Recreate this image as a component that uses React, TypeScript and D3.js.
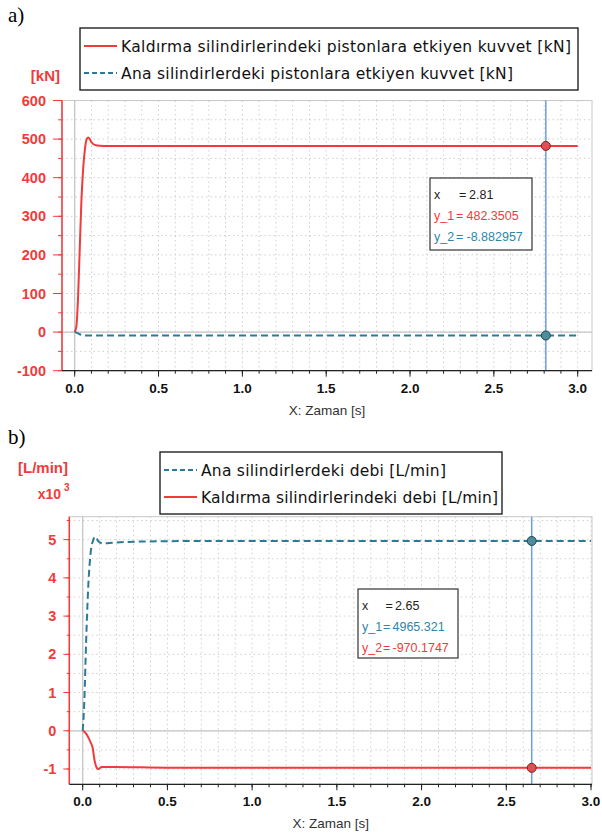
import React from 'react'
import * as d3 from 'd3'

// a) forces [kN]
const timeLift = [0, 0.01, 0.02, 0.03, 0.04, 0.05, 0.06, 0.07, 0.08, 0.09, 0.1, 0.12, 0.15, 0.2, 0.5, 1.0, 1.5, 2.0, 2.5, 2.81, 3.0]
const liftForce = [0, 15, 90, 215, 340, 420, 470, 498, 504, 500, 492, 485, 482.5, 482, 482.3, 482.35, 482.35, 482.35, 482.35, 482.35, 482.35]
const timeMain = [0, 0.01, 0.02, 0.03, 0.04, 0.05, 0.06, 0.1, 0.5, 1.0, 2.0, 2.81, 3.0]
const mainForce = [0, -1.5, -3.5, -5.5, -7.5, -8.6, -8.9, -8.88, -8.88, -8.88, -8.88, -8.882957, -8.88]

// b) flows [L/min]
const timeMainFlow = [0, 0.01, 0.02, 0.033, 0.047, 0.063, 0.075, 0.092, 0.12, 0.18, 0.34, 0.61, 1.0, 1.5, 2.0, 2.65, 3.0]
const mainFlow = [0, 820, 2300, 3790, 4660, 5000, 5080, 4960, 4900, 4920, 4950, 4962, 4965, 4965, 4965, 4965.321, 4965.3]
const timeLiftFlow = [0, 0.012, 0.024, 0.036, 0.047, 0.059, 0.069, 0.083, 0.092, 0.112, 0.18, 0.5, 1.0, 2.0, 2.65, 3.0]
const liftFlow = [0, -30, -100, -200, -310, -450, -750, -970, -1000, -950, -945, -965, -968, -970, -970.1747, -970.2]

const xTicks = d3.range(0, 3.01, 0.5)
const xMinor = d3.range(0, 3.01, 0.1)

const RED = '#f23a3a'
const TEAL = '#2b7a97'
const FONT = 'Liberation Sans, Arial, sans-serif'
const TFONT = 'DejaVu Sans, Verdana, sans-serif'

type Series = { t: number[]; v: number[]; color: string; dashed?: boolean }

type PanelProps = {
  left: number; right: number; top: number; bottom: number
  x0: number; x3: number
  yDomain: [number, number]
  yMajor: number; yMinor: number; yFmt: (v: number) => string
  yTickLen: number
  series: Series[]
  cursorT: number
  cursorVals: number[]
  tip: { x: number; y: number; w: number; h: number; rows: { label: string; value: string; color: string; eqX: number; valX: number }[] }
}

function Panel(p: PanelProps) {
  const x = d3.scaleLinear().domain([0, 3]).range([p.x0, p.x3])
  const y = d3.scaleLinear().domain(p.yDomain).range([p.bottom, p.top])
  const yMaj = d3.range(Math.ceil(p.yDomain[0] / p.yMajor) * p.yMajor, p.yDomain[1] + 1e-6, p.yMajor)
  const yMin = d3.range(Math.ceil(p.yDomain[0] / p.yMinor) * p.yMinor, p.yDomain[1] + 1e-6, p.yMinor)
  const xMin = xMinor.filter(t => x(t) <= p.right + 0.5)
  const line = d3.line<number>().curve(d3.curveMonotoneX)
  const cx = x(p.cursorT)
  return (
    <g>
      {/* grid */}
      {xMin.map((t, i) => (
        <line key={'gx' + i} x1={x(t)} x2={x(t)} y1={p.top} y2={p.bottom} stroke="#cfcfcf" strokeDasharray="1.5,3" />
      ))}
      {yMin.map((v, i) => (
        <line key={'gy' + i} x1={p.left} x2={p.right} y1={y(v)} y2={y(v)} stroke="#cfcfcf" strokeDasharray="1.5,3" />
      ))}
      <line x1={x(0)} x2={x(0)} y1={p.top} y2={p.bottom} stroke="#c4c4c4" strokeWidth={1.2} />
      <line x1={p.left} x2={p.right} y1={y(0)} y2={y(0)} stroke="#c4c4c4" strokeWidth={1.2} />
      <rect x={p.left} y={p.top} width={p.right - p.left} height={p.bottom - p.top} fill="none" stroke="#c8c8c8" />

      {/* series */}
      {p.series.map((s, i) => (
        <path key={'s' + i}
          d={line.x((_, j) => x(s.t[j])).y(v => y(v))(s.v) || ''}
          fill="none" stroke={s.color} strokeWidth={2}
          strokeDasharray={s.dashed ? '7,4' : undefined} />
      ))}

      {/* cursor */}
      <line x1={cx} x2={cx} y1={p.top} y2={p.bottom} stroke="#6a9fd8" strokeWidth={1.5} />
      {p.cursorVals.map((v, i) => (
        <circle key={'m' + i} cx={cx} cy={y(v)} r={4.5}
          fill={p.series[i].color === RED ? '#e05050' : '#4f8c9c'}
          stroke={p.series[i].color === RED ? '#7a1f1f' : '#1d4854'} strokeWidth={1} />
      ))}

      {/* y axis */}
      <line x1={p.left} x2={p.left} y1={p.top} y2={p.bottom} stroke={RED} strokeWidth={1.5} />
      {yMin.map((v, i) => (
        <line key={'ym' + i} x1={p.left - p.yTickLen / 2.3} x2={p.left} y1={y(v)} y2={y(v)} stroke={RED} />
      ))}
      {yMaj.map((v, i) => (
        <g key={'yM' + i}>
          <line x1={p.left - p.yTickLen} x2={p.left} y1={y(v)} y2={y(v)} stroke={RED} />
          <text x={p.left - p.yTickLen - 7} y={y(v) + 5} textAnchor="end" fill={RED}
            fontFamily={FONT} fontWeight="bold" fontSize={14.5}>{p.yFmt(v)}</text>
        </g>
      ))}

      {/* x axis */}
      <line x1={p.left} x2={p.right} y1={p.bottom} y2={p.bottom} stroke="#222" strokeWidth={1.2} />
      {xMin.map((t, i) => (
        <line key={'xm' + i} x1={x(t)} x2={x(t)} y1={p.bottom} y2={p.bottom + 3} stroke="#222" />
      ))}
      {xTicks.map((t, i) => (
        <g key={'xM' + i}>
          <line x1={x(t)} x2={x(t)} y1={p.bottom} y2={p.bottom + 6} stroke="#222" />
          <text x={x(t)} y={p.bottom + 22} textAnchor="middle" fill="#111"
            fontFamily={FONT} fontWeight="bold" fontSize={13.5}>{t.toFixed(1)}</text>
        </g>
      ))}
      <text x={(p.left + p.right) / 2 - 0} y={p.bottom + 44} textAnchor="middle" fill="#333"
        fontFamily={FONT} fontSize={13.5}>X: Zaman [s]</text>

      {/* tooltip */}
      <rect x={p.tip.x} y={p.tip.y} width={p.tip.w} height={p.tip.h} fill="white" stroke="#333" strokeWidth={1.2} />
      {p.tip.rows.map((r, i) => (
        <text key={'tr' + i} y={p.tip.y + 21 + i * 21} fill={r.color} fontFamily={FONT} fontSize={12.5}>
          <tspan x={p.tip.x + 4}>{r.label}</tspan>
          <tspan x={r.eqX}>=</tspan>
          <tspan x={r.valX}>{r.value}</tspan>
        </text>
      ))}
    </g>
  )
}

function Legend({ x, y, w, items }: { x: number; y: number; w: number; items: { label: string; width: number; color: string; dashed?: boolean }[] }) {
  return (
    <g>
      <rect x={x} y={y} width={w} height={62} fill="white" stroke="#111" strokeWidth={1.3} />
      {items.map((it, i) => (
        <g key={i}>
          <line x1={x + 4} x2={x + 37} y1={y + 18 + i * 27} y2={y + 18 + i * 27} stroke={it.color} strokeWidth={2}
            strokeDasharray={it.dashed ? '5,3' : undefined} />
          <text x={x + 41} y={y + 24 + i * 27} fontFamily={TFONT} fontSize={15.5} fill="#111"
            textLength={it.width} lengthAdjust="spacing">{it.label}</text>
        </g>
      ))}
    </g>
  )
}

export default function App() {
  return (
    <svg width={602} height={836} style={{ position: 'absolute', left: 0, top: 0, background: 'white' }}>
      <text x={8} y={22} fontFamily="Liberation Serif, serif" fontSize={21}>a)</text>
      <Legend x={80} y={28} w={498} items={[
        { label: 'Kaldırma silindirlerindeki pistonlara etkiyen kuvvet [kN]', width: 450, color: RED },
        { label: 'Ana silindirlerdeki pistonlara etkiyen kuvvet [kN]', width: 392, color: TEAL, dashed: true },
      ]} />
      <text x={60} y={81} textAnchor="end" fill={RED} fontFamily={FONT} fontWeight="bold" fontSize={15}>[kN]</text>
      <Panel
        left={62} right={592} top={100.5} bottom={370.7}
        x0={74.7} x3={577.7}
        yDomain={[-100, 600]} yMajor={100} yMinor={50} yFmt={v => String(v)} yTickLen={9}
        series={[
          { t: timeLift, v: liftForce, color: RED },
          { t: timeMain, v: mainForce, color: TEAL, dashed: true },
        ]}
        cursorT={2.81}
        cursorVals={[482.3505, -8.882957]}
        tip={{
          x: 430, y: 178, w: 102, h: 72, rows: [
            { label: 'x', value: '2.81', color: '#222', eqX: 459, valX: 469 },
            { label: 'y_1', value: '482.3505', color: RED, eqX: 456, valX: 466.5 },
            { label: 'y_2', value: '-8.882957', color: '#2f86a6', eqX: 456, valX: 466.5 },
          ]
        }}
      />

      <text x={8} y={444} fontFamily="Liberation Serif, serif" fontSize={21}>b)</text>
      <Legend x={160} y={452} w={342} items={[
        { label: 'Ana silindirlerdeki debi [L/min]', width: 245, color: TEAL, dashed: true },
        { label: 'Kaldırma silindirlerindeki debi [L/min]', width: 297, color: RED },
      ]} />
      <text x={68} y={473} textAnchor="end" fill={RED} fontFamily={FONT} fontWeight="bold" fontSize={15}>[L/min]</text>
      <text x={61} y={499} textAnchor="end" fill={RED} fontFamily={FONT} fontWeight="bold" fontSize={14}>x10</text>
      <text x={64} y={491} fill={RED} fontFamily={FONT} fontWeight="bold" fontSize={10}>3</text>
      <Panel
        left={69.3} right={592} top={516.7} bottom={784.3}
        x0={82.7} x3={591}
        yDomain={[-1400, 5600]} yMajor={1000} yMinor={500} yFmt={v => String(v / 1000)} yTickLen={6}
        series={[
          { t: timeMainFlow, v: mainFlow, color: TEAL, dashed: true },
          { t: timeLiftFlow, v: liftFlow, color: RED },
        ]}
        cursorT={2.65}
        cursorVals={[4965.321, -970.1747]}
        tip={{
          x: 358, y: 589, w: 100, h: 69, rows: [
            { label: 'x', value: '2.65', color: '#222', eqX: 385.5, valX: 395 },
            { label: 'y_1', value: '4965.321', color: '#2f86a6', eqX: 383, valX: 392.5 },
            { label: 'y_2', value: '-970.1747', color: RED, eqX: 383, valX: 392.5 },
          ]
        }}
      />
    </svg>
  )
}
